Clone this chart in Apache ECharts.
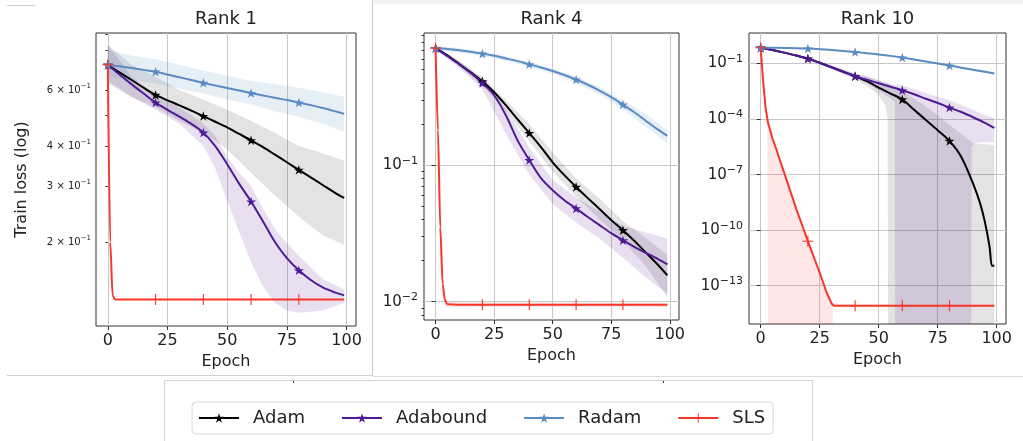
<!DOCTYPE html>
<html><head><meta charset="utf-8">
<script src="https://cdn.jsdelivr.net/npm/echarts@6/dist/echarts.min.js"></script>
<style>html,body{margin:0;padding:0;background:#fff}#c{width:1023px;height:441px}</style>
</head><body><div id="c"></div><script>
// ---------- data ----------
const SERIES_NAMES = ['Adam', 'Adabound', 'Radam', 'SLS'];
const PANEL_TITLES = ['Rank 1', 'Rank 4', 'Rank 10'];
const X_TICKS = [0, 25, 50, 75, 100];
const MARKER_EPOCHS = [0, 20, 40, 60, 80];

// y tick values (labels) and tick marks per panel
const R1_YLABELS = [0.2, 0.3, 0.4, 0.6];
const R1_YTICKS = [0.2, 0.3, 0.4, 0.5, 0.6, 0.7, 0.8, 0.9];
const R4_YLABELS = [0.01, 0.1];
const R4_YMINOR = [0.008, 0.009, 0.02, 0.03, 0.04, 0.05, 0.06, 0.07, 0.08, 0.09, 0.2, 0.3, 0.4, 0.5, 0.6, 0.7, 0.8, 0.9];
const R10_YLABELS = [1e-1, 1e-4, 1e-7, 1e-10, 1e-13];

// Rank 1: [epoch, train loss]
const R1_ADAM = [[0,0.72],[5,0.68],[10,0.645],[15,0.61],[20,0.579],[25,0.557],[30,0.537],[35,0.517],[40,0.497],[45,0.477],[50,0.458],[55,0.437],[60,0.417],[65,0.397],[70,0.376],[75,0.356],[80,0.337],[85,0.319],[90,0.302],[95,0.286],[99,0.275]];
const R1_ADABOUND = [[0,0.72],[5,0.67],[10,0.625],[15,0.585],[20,0.548],[25,0.52],[30,0.495],[35,0.47],[40,0.441],[45,0.40],[50,0.351],[55,0.305],[60,0.268],[65,0.232],[70,0.20],[75,0.178],[80,0.163],[85,0.152],[90,0.144],[95,0.139],[99,0.136]];
const R1_RADAM = [[0,0.72],[5,0.712],[10,0.703],[15,0.694],[20,0.685],[25,0.671],[30,0.658],[35,0.645],[40,0.632],[45,0.62],[50,0.609],[55,0.598],[60,0.587],[65,0.577],[70,0.567],[75,0.558],[80,0.548],[85,0.538],[90,0.527],[95,0.515],[99,0.505]];
const R1_SLS = [[0,0.72],[1,0.2],[2,0.136],[3,0.132],[10,0.132],[20,0.132],[30,0.132],[40,0.132],[50,0.132],[60,0.132],[70,0.132],[80,0.132],[90,0.132],[99,0.132]];
// Rank 1 bands: [epoch, lower, upper]
const R1_ADAM_BAND = [[0,0.63,0.83],[10,0.57,0.72],[20,0.53,0.66],[30,0.48,0.60],[40,0.44,0.56],[50,0.39,0.52],[60,0.33,0.48],[70,0.28,0.44],[80,0.24,0.40],[90,0.21,0.38],[99,0.196,0.36]];
const R1_ADABOUND_BAND = [[0,0.64,0.83],[10,0.57,0.66],[20,0.52,0.58],[30,0.47,0.53],[40,0.40,0.47],[45,0.34,0.43],[50,0.27,0.37],[55,0.215,0.33],[60,0.173,0.30],[65,0.145,0.255],[70,0.129,0.22],[75,0.122,0.198],[80,0.12,0.181],[90,0.122,0.153],[99,0.129,0.142]];
const R1_RADAM_BAND = [[0,0.66,0.80],[10,0.645,0.77],[20,0.63,0.75],[30,0.607,0.72],[40,0.585,0.69],[50,0.56,0.665],[60,0.54,0.64],[70,0.515,0.625],[80,0.495,0.61],[90,0.47,0.59],[99,0.444,0.571]];

// Rank 4
const R4_ADAM = [[0,0.72],[5,0.638],[10,0.553],[15,0.478],[20,0.411],[25,0.342],[30,0.275],[35,0.217],[40,0.172],[45,0.1356],[50,0.105],[55,0.0845],[60,0.0693],[65,0.0574],[70,0.0477],[75,0.0396],[80,0.0334],[85,0.0278],[90,0.0227],[95,0.0186],[99,0.0156]];
const R4_ADABOUND = [[0,0.72],[5,0.63],[10,0.55],[15,0.473],[20,0.40],[25,0.325],[30,0.232],[35,0.152],[40,0.109],[45,0.0804],[50,0.0656],[55,0.0554],[60,0.0482],[65,0.0417],[70,0.0364],[75,0.0318],[80,0.0282],[85,0.0251],[90,0.0227],[95,0.0205],[99,0.0188]];
const R4_RADAM = [[0,0.72],[5,0.71],[10,0.695],[15,0.677],[20,0.656],[25,0.632],[30,0.605],[35,0.578],[40,0.548],[45,0.52],[50,0.49],[55,0.458],[60,0.424],[65,0.388],[70,0.352],[75,0.315],[80,0.278],[85,0.243],[90,0.21],[95,0.182],[99,0.164]];
const R4_SLS = [[0,0.72],[1,0.18],[2,0.035],[3,0.0135],[4,0.0102],[5,0.0096],[10,0.0095],[20,0.0095],[30,0.0095],[40,0.0095],[50,0.0095],[60,0.0095],[70,0.0095],[80,0.0095],[90,0.0095],[99,0.0095]];
const R4_ADAM_BAND = [[0,0.70,0.74],[10,0.53,0.58],[20,0.38,0.44],[30,0.25,0.30],[40,0.15,0.20],[50,0.09,0.124],[60,0.059,0.08],[70,0.040,0.057],[80,0.028,0.039],[90,0.018,0.029],[99,0.0109,0.022]];
const R4_ADABOUND_BAND = [[0,0.70,0.74],[10,0.52,0.58],[20,0.36,0.43],[30,0.17,0.26],[40,0.085,0.135],[50,0.052,0.078],[60,0.038,0.058],[70,0.029,0.046],[80,0.021,0.036],[90,0.015,0.032],[99,0.0114,0.029]];
const R4_RADAM_BAND = [[0,0.69,0.75],[10,0.67,0.72],[20,0.63,0.68],[30,0.58,0.63],[40,0.525,0.57],[50,0.47,0.51],[60,0.40,0.445],[70,0.33,0.375],[80,0.255,0.30],[90,0.19,0.235],[99,0.144,0.18]];
const R4_SLS_BAND = [[0,0.70,0.74],[1,0.15,0.22],[2,0.026,0.048],[3,0.0115,0.016],[4,0.0094,0.011],[5,0.0092,0.0099],[99,0.0092,0.0098]];

// Rank 10
const R10_ADAM = [[0,0.72],[5,0.537],[10,0.389],[15,0.269],[20,0.186],[25,0.11],[30,0.063],[35,0.0363],[40,0.0207],[45,0.0112],[50,0.005],[55,0.0024],[60,1.15e-3],[65,3.2e-4],[70,8.9e-5],[75,2.5e-5],[80,6.6e-6],[85,9e-7],[90,3.3e-8],[93,2.75e-9],[95,2.8e-10],[97,1.26e-11],[98,1.2e-12],[99,1.2e-12]];
const R10_ADABOUND = [[0,0.72],[5,0.537],[10,0.389],[15,0.269],[20,0.186],[25,0.11],[30,0.063],[35,0.0363],[40,0.0207],[45,0.0132],[50,0.0087],[55,0.0056],[60,0.0036],[65,0.0022],[70,0.00126],[75,7.4e-4],[80,4.2e-4],[85,2.4e-4],[90,1.26e-4],[95,6.3e-5],[99,3.35e-5]];
const R10_RADAM = [[0,0.72],[5,0.71],[10,0.70],[15,0.68],[20,0.65],[25,0.6],[30,0.54],[35,0.48],[40,0.42],[45,0.36],[50,0.31],[55,0.26],[60,0.21],[65,0.165],[70,0.128],[75,0.10],[80,0.078],[85,0.06],[90,0.046],[95,0.036],[99,0.029]];
const R10_SLS = [[0,0.72],[1,1.26e-2],[2,5e-4],[3,7.1e-5],[4,2.5e-5],[5,8.9e-6],[6,4e-6],[10,1.2e-7],[15,1.5e-9],[20,2.5e-11],[25,5e-13],[28,4e-14],[30,1.1e-14],[31,8.3e-15],[40,8.3e-15],[50,8.3e-15],[60,8.3e-15],[70,8.3e-15],[80,8.3e-15],[90,8.3e-15],[99,8.3e-15]];
const R10_ADAM_BAND = [[0,0.70,0.74],[10,0.36,0.42],[20,0.16,0.21],[30,0.05,0.078],[40,0.014,0.03],[45,6e-3,0.02],[50,2e-3,0.012],[53,5e-4,9e-3],[53.8,1e-4,8.5e-3],[54,1e-16,8.3e-3],[60,1e-16,3.2e-3],[70,1e-16,5e-4],[80,1e-16,5e-5],[90,1e-16,5e-6],[99,1e-16,4e-6]];
const R10_ADABOUND_BAND = [[0,0.70,0.74],[10,0.36,0.42],[20,0.16,0.21],[30,0.052,0.075],[40,0.0158,0.028],[45,0.0085,0.02],[50,3.5e-3,0.0125],[55,1.3e-3,8e-3],[56.9,8e-4,7.4e-3],[57,1e-16,7.3e-3],[60,1e-16,6.8e-3],[70,1e-16,2.6e-3],[80,1e-16,1.05e-3],[89.2,1e-16,3.6e-4],[89.4,3e-6,3.5e-4],[91,5.2e-6,2.8e-4],[95,5.6e-6,1.6e-4],[99,5.6e-6,1.07e-4]];
const R10_RADAM_BAND = [[0,0.68,0.76],[10,0.65,0.75],[20,0.6,0.7],[30,0.49,0.59],[40,0.38,0.46],[50,0.28,0.34],[60,0.185,0.235],[70,0.113,0.145],[80,0.067,0.09],[90,0.04,0.053],[99,0.025,0.034]];
const R10_SLS_BAND = [[0,0.70,0.74],[1,0.009,0.018],[2,3e-4,8e-4],[2.9,3e-5,1.2e-4],[3.1,1e-16,9e-5],[6,1e-16,5e-6],[10,1e-16,1.6e-7],[15,1e-16,2e-9],[20,1e-16,3.5e-11],[25,1e-16,7e-13],[28,1e-16,5.5e-14],[30.4,1e-16,1.3e-14],[30.6,7.5e-15,1.1e-14],[40,7.5e-15,9.2e-15],[99,7.5e-15,9.2e-15]];

// ---------- styling ----------
const FONT = 'DejaVu Sans';
const TXT = '#222';
const COLORS = { Adam: '#000000', Adabound: '#4f1a96', Radam: '#5a8bc3', SLS: '#f8362a' };
const BAND_COLORS = { Adam: 'rgba(0,0,0,0.11)', Adabound: 'rgba(75,15,140,0.13)', Radam: 'rgba(90,139,195,0.15)', SLS: 'rgba(248,54,42,0.12)' };
const STAR = 'path://M0,-1L0.2245,-0.309L0.951,-0.309L0.363,0.118L0.588,0.809L0,0.382L-0.588,0.809L-0.363,0.118L-0.951,-0.309L-0.2245,-0.309Z';
const PLUS = 'path://M-1,-0.1L1,-0.1L1,0.1L-1,0.1ZM-0.1,-1L0.1,-1L0.1,1L-0.1,1Z';

const PANELS = [
  { lines: { Adam: R1_ADAM, Adabound: R1_ADABOUND, Radam: R1_RADAM, SLS: R1_SLS },
    bands: { Adam: R1_ADAM_BAND, Adabound: R1_ADABOUND_BAND, Radam: R1_RADAM_BAND },
    slsSmooth: true },
  { lines: { Adam: R4_ADAM, Adabound: R4_ADABOUND, Radam: R4_RADAM, SLS: R4_SLS },
    bands: { Adam: R4_ADAM_BAND, Adabound: R4_ADABOUND_BAND, Radam: R4_RADAM_BAND, SLS: R4_SLS_BAND },
    slsSmooth: true },
  { lines: { Adam: R10_ADAM, Adabound: R10_ADABOUND, Radam: R10_RADAM, SLS: R10_SLS },
    bands: { Adam: R10_ADAM_BAND, Adabound: R10_ADABOUND_BAND, Radam: R10_RADAM_BAND, SLS: R10_SLS_BAND },
    slsSmooth: false }
];

const GRIDS = [
  { left: 96, top: 33, width: 260, height: 293 },
  { left: 424, top: 33, width: 255, height: 287 },
  { left: 749, top: 33, width: 257, height: 291 }
];
const Y_RANGES = [[0.109, 0.906], [0.00735, 0.929], [8.5e-16, 4.47]];

function sciLabel(v) {
  const e = Math.floor(Math.log10(v) + 1e-9);
  const m = Math.round(v / Math.pow(10, e));
  const exp = '{s|' + (e < 0 ? '\u2212' + (-e) : String(e)) + '}';
  return m === 1 ? '10' + exp : m + ' \u00d7 10' + exp;
}

const xAxes = GRIDS.map((g, i) => ({
  type: 'value', gridIndex: i, min: -4.95, max: 103.95,
  name: 'Epoch', nameLocation: 'middle', nameGap: 27,
  nameTextStyle: { fontFamily: FONT, fontSize: 16, color: TXT },
  axisLine: { show: false },
  axisTick: { show: true, customValues: X_TICKS, length: 4, lineStyle: { color: '#333' } },
  axisLabel: { customValues: X_TICKS, fontFamily: FONT, fontSize: 16, color: TXT, margin: 7 },
  splitLine: { show: true, lineStyle: { color: '#c8c8c8', width: 1 } }
}));

const yAxes = [
  { type: 'log', gridIndex: 0, min: Y_RANGES[0][0], max: Y_RANGES[0][1],
    name: 'Train loss (log)', nameLocation: 'middle', nameGap: 66,
    nameTextStyle: { fontFamily: FONT, fontSize: 16, color: TXT },
    axisLine: { show: false },
    axisTick: { show: true, customValues: R1_YTICKS, length: 2.5, lineStyle: { color: '#333' } },
    axisLabel: { customValues: R1_YLABELS, formatter: sciLabel, fontFamily: FONT, fontSize: 10, lineHeight: 14, color: TXT, margin: 5,
      rich: { s: { fontFamily: FONT, fontSize: 7, lineHeight: 7, verticalAlign: 'top', color: TXT } } },
    splitLine: { show: false } },
  { type: 'log', gridIndex: 1, min: Y_RANGES[1][0], max: Y_RANGES[1][1],
    axisLine: { show: false },
    axisTick: { show: true, customValues: R4_YLABELS, length: 4, lineStyle: { color: '#333' } },
    axisLabel: { customValues: R4_YLABELS, formatter: sciLabel, fontFamily: FONT, fontSize: 15, lineHeight: 20, color: TXT, margin: 6,
      rich: { s: { fontFamily: FONT, fontSize: 11, lineHeight: 11, verticalAlign: 'top', color: TXT } } },
    splitLine: { show: true, lineStyle: { color: '#c8c8c8', width: 1 } } },
  { type: 'log', gridIndex: 2, min: Y_RANGES[2][0], max: Y_RANGES[2][1],
    axisLine: { show: false },
    axisTick: { show: true, customValues: R10_YLABELS, length: 4, lineStyle: { color: '#333' } },
    axisLabel: { customValues: R10_YLABELS, formatter: sciLabel, fontFamily: FONT, fontSize: 15, lineHeight: 20, color: TXT, margin: 6,
      rich: { s: { fontFamily: FONT, fontSize: 11, lineHeight: 11, verticalAlign: 'top', color: TXT } } },
    splitLine: { show: true, lineStyle: { color: '#c8c8c8', width: 1 } } },
  // minor ticks for Rank 4 panel
  { type: 'log', gridIndex: 1, min: Y_RANGES[1][0], max: Y_RANGES[1][1], position: 'left',
    axisLine: { show: false },
    axisTick: { show: true, customValues: R4_YMINOR, length: 2.5, lineStyle: { color: '#333' } },
    axisLabel: { show: false }, splitLine: { show: false } }
];

function bandSeries(name, band, gi) {
  return {
    type: 'custom', name: name + ' band', xAxisIndex: gi, yAxisIndex: gi, clip: true, silent: true, z: 2,
    data: band, encode: { x: 0, y: [1, 2] },
    renderItem: function (params, api) {
      if (params.dataIndex !== 0) return null;
      const up = band.map(d => api.coord([d[0], d[2]]));
      const lo = band.map(d => api.coord([d[0], d[1]])).reverse();
      return { type: 'polygon', shape: { points: up.concat(lo) }, style: { fill: BAND_COLORS[name] } };
    }
  };
}

function lineSeries(name, pts, gi, panel) {
  const isSls = name === 'SLS';
  let smooth = 0.3, mono = null;
  if (isSls) { smooth = panel.slsSmooth ? 0.25 : false; mono = panel.slsSmooth ? 'x' : null; }
  return {
    type: 'line', name: name, xAxisIndex: gi, yAxisIndex: gi, z: 3, silent: true,
    symbol: isSls ? PLUS : STAR, symbolSize: isSls ? 11 : 10, symbolKeepAspect: true,
    showSymbol: true, smooth: smooth, smoothMonotone: mono, clip: true,
    lineStyle: { color: COLORS[name], width: 2 },
    itemStyle: { color: COLORS[name] },
    emphasis: { disabled: true },
    data: pts.map(p => MARKER_EPOCHS.indexOf(p[0]) >= 0 ? { value: p } : { value: p, symbol: 'none' })
  };
}

const series = [];
PANELS.forEach((p, gi) => {
  SERIES_NAMES.forEach(n => { if (p.bands[n]) series.push(bandSeries(n, p.bands[n], gi)); });
});
PANELS.forEach((p, gi) => {
  SERIES_NAMES.forEach(n => series.push(lineSeries(n, p.lines[n], gi, p)));
});

const option = {
  animation: false,
  backgroundColor: '#fff',
  title: PANEL_TITLES.map((t, i) => ({
    text: t, left: GRIDS[i].left + GRIDS[i].width / 2, top: 10, textAlign: 'center', padding: 0,
    textStyle: { fontFamily: FONT, fontSize: 18, fontWeight: 'normal', color: TXT }
  })),
  grid: GRIDS.map(g => Object.assign({ show: true, borderColor: '#333', borderWidth: 1, backgroundColor: 'transparent' }, g)),
  xAxis: xAxes,
  yAxis: yAxes,
  legend: {
    data: SERIES_NAMES, left: 192, top: 402, itemGap: 36, itemWidth: 40, itemHeight: 12,
    padding: [5, 8, 5, 6], borderColor: '#d8d8d8', borderWidth: 1, borderRadius: 4,
    textStyle: { fontFamily: FONT, fontSize: 18, color: TXT, lineHeight: 22, padding: [0, 0, 0, 9] },
    selectedMode: false
  },
  graphic: [
    { type: 'rect', shape: { x: 373, y: 0, width: 650, height: 4 }, style: { fill: '#f2f2f2' }, silent: true },
    { type: 'line', shape: { x1: 7, y1: 5.5, x2: 35, y2: 5.5 }, style: { stroke: '#d0d0d0', lineWidth: 1 }, silent: true },
    { type: 'line', shape: { x1: 372.5, y1: 0, x2: 372.5, y2: 376 }, style: { stroke: '#c8c8c8', lineWidth: 1 }, silent: true },
    { type: 'line', shape: { x1: 7, y1: 375.5, x2: 372, y2: 375.5 }, style: { stroke: '#d0d0d0', lineWidth: 1 }, silent: true },
    { type: 'line', shape: { x1: 373, y1: 376.5, x2: 1023, y2: 376.5 }, style: { stroke: '#dcdcdc', lineWidth: 1 }, silent: true },
    { type: 'rect', shape: { x: 164.5, y: 380.5, width: 648, height: 70 }, style: { fill: 'none', stroke: '#d4d4d4', lineWidth: 1 }, silent: true },
    { type: 'rect', shape: { x: 293, y: 381, width: 1, height: 2 }, style: { fill: '#333' }, silent: true },
    { type: 'rect', shape: { x: 663, y: 381, width: 1, height: 2 }, style: { fill: '#333' }, silent: true }
  ],
  series: series
};

const chart = echarts.init(document.getElementById('c'), null, { renderer: 'canvas' });
chart.setOption(option);
</script></body></html>
